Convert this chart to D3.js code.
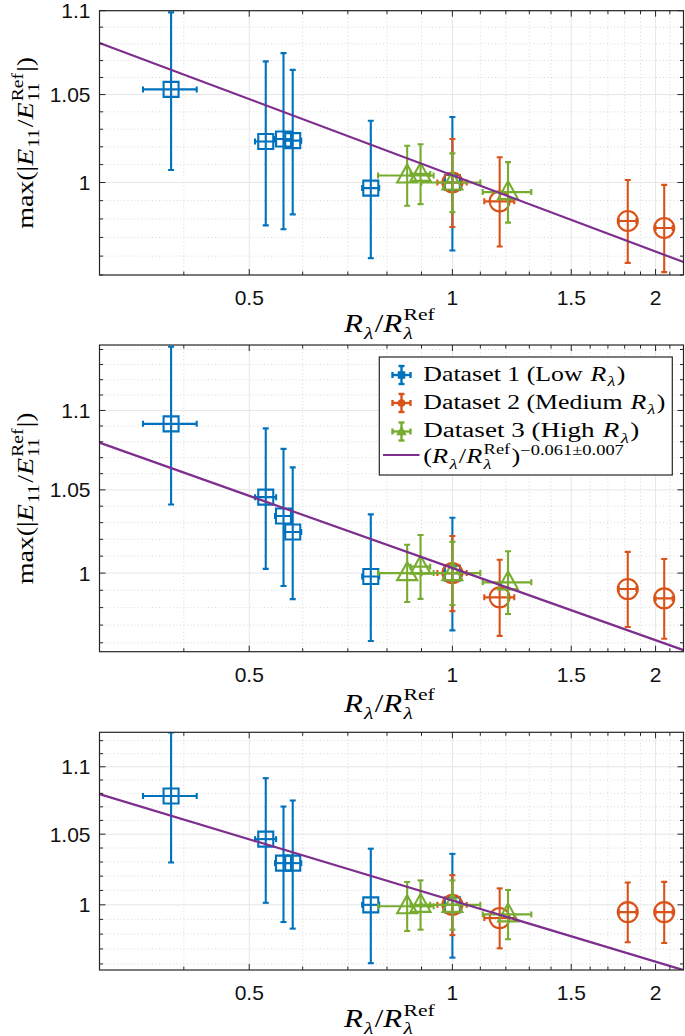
<!DOCTYPE html>
<html><head><meta charset="utf-8">
<script src="https://cdn.jsdelivr.net/npm/d3@7"></script>
<style>body{margin:0;background:#fff} svg{display:block} text{white-space:pre}</style>
</head><body><svg id="c" width="685" height="1036"></svg>
<script>
// ---------- data ----------
const xTicks = [0.5, 1, 1.5, 2];
const xTickLabels = ["0.5", "1", "1.5", "2"];
const xMinor = [0.4, 0.6, 0.7, 0.8, 0.9, 1.1, 1.2, 1.3, 1.4, 1.6, 1.7, 1.8, 1.9, 2.1];
const yTicks = [1, 1.05, 1.1];
const yTickLabels = ["1", "1.05", "1.1"];
const yMinor = [0.95, 0.96, 0.97, 0.98, 0.99, 1.01, 1.02, 1.03, 1.04, 1.06, 1.07, 1.08, 1.09, 1.11, 1.12, 1.13, 1.14];

const d1x = [0.383, 0.529, 0.562, 0.580, 0.757, 1.0];
const d1xerr = [0.035, 0.019, 0.016, 0.017, 0.022, 0.03];
const d2x = [1.0, 1.175, 1.819, 2.06];
const d2xerr = [0.05, 0.06, 0.055, 0.06];
const d3x = [0.857, 0.897, 1.0, 1.209];
const d3xerr = [0.081, 0.03, 0.1, 0.1];

// panel 1
const p1_d1y = [1.053, 1.023, 1.0244, 1.0235, 0.9969, 1.0];
const p1_d1e = [0.046, 0.0465, 0.05, 0.041, 0.038, 0.037];
const p1_d2y = [1.0, 0.9896, 0.9789, 0.9751];
const p1_d2e = [0.0244, 0.0245, 0.0225, 0.0236];
const p1_d3y = [1.0039, 1.0048, 1.0, 0.9947];
const p1_d3e = [0.0167, 0.0167, 0.0163, 0.0167];
// panel 2
const p2_d1y = [1.0914, 1.0455, 1.034, 1.0244, 0.998, 1.0];
const p2_d1e = [0.0504, 0.043, 0.0415, 0.0395, 0.037, 0.033];
const p2_d2y = [1.0, 0.9859, 0.9907, 0.9853];
const p2_d2e = [0.022, 0.022, 0.0218, 0.023];
const p2_d3y = [1.0, 1.0038, 1.0, 0.9946];
const p2_d3e = [0.0168, 0.0188, 0.0185, 0.0183];
// panel 3
const p3_d1y = [1.078, 1.0464, 1.0292, 1.0292, 1.0, 1.0];
const p3_d1e = [0.0483, 0.045, 0.041, 0.0455, 0.0395, 0.0358];
const p3_d2y = [1.0, 0.9909, 0.995, 0.995];
const p3_d2e = [0.0207, 0.0205, 0.0205, 0.021];
const p3_d3y = [0.999, 1.0, 1.0, 0.9934];
const p3_d3e = [0.0169, 0.017, 0.017, 0.0169];

const fitExponent = -0.061;
const fitCoef = [1.004, 1.003, 1.003];

const xDomain = [0.3, 2.2];
const yDomains = [[0.95, 1.1], [0.955, 1.143], [0.956, 1.1265]];

const seriesNames = ["Dataset 1 (Low", "Dataset 2 (Medium", "Dataset 3 (High"];
const colors = ["#0072BD", "#D95319", "#77AC30"];
const fitColor = "#7E2F8E";

// ---------- layout ----------
const svg = d3.select("#c");
const L = 99.5, R = 683.5;
const panels = [
  {top: 10.7, bottom: 275, ylabel: true, legend: false, xlOff: 56.7},
  {top: 345, bottom: 651.7, ylabel: true, legend: true, xlOff: 60},
  {top: 732.3, bottom: 970, ylabel: false, legend: false, xlOff: 57}
];
const panelData = [
  [[p1_d1y, p1_d1e], [p1_d2y, p1_d2e], [p1_d3y, p1_d3e]],
  [[p2_d1y, p2_d1e], [p2_d2y, p2_d2e], [p2_d3y, p2_d3e]],
  [[p3_d1y, p3_d1e], [p3_d2y, p3_d2e], [p3_d3y, p3_d3e]]
];
const xs = [[d1x, d1xerr], [d2x, d2xerr], [d3x, d3xerr]];

const SERIF = "'Liberation Serif', 'Times New Roman', serif";
const SANS = "'Liberation Sans', Arial, Helvetica, sans-serif";

// math-like text layout helper
function mathText(parent, runs, size, subShift) {
  const g = parent.append("g");
  let x = 0;
  runs.forEach(r => {
    if (r.gap !== undefined) { x += r.gap * size; return; }
    if (r.sub !== undefined || r.sup !== undefined) {
      let w = 0;
      const ss = size * 0.7;
      if (r.sub !== undefined) {
        const t = g.append("text").attr("x", x).attr("y", size * (subShift || 0.28))
          .attr("font-family", SERIF).attr("font-size", ss)
          .attr("font-style", r.subIt ? "italic" : "normal").text(r.sub);
        w = Math.max(w, t.node().getComputedTextLength());
      }
      if (r.sup !== undefined) {
        const t = g.append("text").attr("x", x).attr("y", -size * (r.supHigh || 0.45))
          .attr("font-family", SERIF).attr("font-size", ss)
          .attr("font-style", "normal").text(r.sup);
        w = Math.max(w, t.node().getComputedTextLength());
      }
      x += w + 1;
    } else {
      const t = g.append("text").attr("x", x).attr("y", 0)
        .attr("font-family", SERIF).attr("font-size", size)
        .attr("font-style", r.it ? "italic" : "normal").text(r.t);
      x += t.node().getComputedTextLength() + (r.it ? 1 : 0);
    }
  });
  g.attr("fill", "#000");
  return {g, width: x};
}

function placeMath(parent, runs, size, x, y, targetW, anchor, rotate, subShift) {
  const outer = parent.append("g");
  const m = mathText(outer, runs, size, subShift);
  const sx = targetW ? targetW / m.width : 1;
  const off = anchor === "middle" ? -m.width / 2 : 0;
  m.g.attr("transform", `scale(${sx},1) translate(${off},0)`);
  outer.attr("transform", `translate(${x},${y})` + (rotate ? ` rotate(${rotate})` : ""));
  return outer;
}

const xlabelRuns = [{t: "R", it: true}, {sub: "λ", subIt: true}, {t: "/"}, {t: "R", it: true}, {sub: "λ", subIt: true, sup: "Ref"}];
const ylabelRuns = [{t: "max(|"}, {t: "E", it: true}, {sub: "11"}, {t: "/"}, {t: "E", it: true}, {sub: "11", sup: "Ref"}, {t: "|)"}];

function markerPath(kind) {
  if (kind === 0) return "M-7.5,-7.5H7.5V7.5H-7.5Z";
  if (kind === 1) return d3.symbol().type(d3.symbolCircle).size(Math.PI * 100)();
  return "M0,-11L10,7L-10,7Z";
}

panels.forEach((p, pi) => {
  const x = d3.scaleLog().domain(xDomain).range([L, R]);
  const y = d3.scaleLog().domain(yDomains[pi]).range([p.bottom, p.top]);
  const g = svg.append("g");
  const clipId = "clip" + pi;
  svg.append("clipPath").attr("id", clipId).append("rect")
    .attr("x", L).attr("y", p.top).attr("width", R - L).attr("height", p.bottom - p.top);

  const yMin = yMinor.filter(v => v >= yDomains[pi][0] && v <= yDomains[pi][1]);
  // grid minor
  g.selectAll(".gxm").data(xMinor).join("line")
    .attr("x1", d => x(d)).attr("x2", d => x(d)).attr("y1", p.top).attr("y2", p.bottom)
    .attr("stroke", "#cfcfcf").attr("stroke-width", 0.8).attr("stroke-dasharray", "1,2.5");
  g.selectAll(".gym").data(yMin).join("line")
    .attr("y1", d => y(d)).attr("y2", d => y(d)).attr("x1", L).attr("x2", R)
    .attr("stroke", "#cfcfcf").attr("stroke-width", 0.8).attr("stroke-dasharray", "1,2.5");
  // grid major
  g.selectAll(".gx").data(xTicks).join("line")
    .attr("x1", d => x(d)).attr("x2", d => x(d)).attr("y1", p.top).attr("y2", p.bottom)
    .attr("stroke", "#e6e6e6").attr("stroke-width", 1);
  g.selectAll(".gy").data(yTicks).join("line")
    .attr("y1", d => y(d)).attr("y2", d => y(d)).attr("x1", L).attr("x2", R)
    .attr("stroke", "#e6e6e6").attr("stroke-width", 1);

  // data
  const dg = g.append("g").attr("clip-path", `url(#${clipId})`);
  panelData[pi].forEach((s, si) => {
    const [vx, vxe] = xs[si];
    const [vy, vye] = s;
    const col = colors[si];
    const pts = vx.map((xv, i) => ({x: xv, xe: vxe[i], y: vy[i], ye: vye[i]}));
    const sg = dg.append("g").attr("stroke", col).attr("stroke-width", 2.1).attr("fill", "none");
    pts.forEach(d => {
      const cx = x(d.x), cy = y(d.y);
      const yt = y(d.y + d.ye), yb = y(d.y - d.ye);
      const xl = x(d.x - d.xe), xr = x(d.x + d.xe);
      sg.append("line").attr("x1", cx).attr("x2", cx).attr("y1", yt).attr("y2", yb);
      sg.append("line").attr("x1", cx - 3).attr("x2", cx + 3).attr("y1", yt).attr("y2", yt);
      sg.append("line").attr("x1", cx - 3).attr("x2", cx + 3).attr("y1", yb).attr("y2", yb);
      sg.append("line").attr("x1", xl).attr("x2", xr).attr("y1", cy).attr("y2", cy);
      sg.append("line").attr("x1", xl).attr("x2", xl).attr("y1", cy - 3).attr("y2", cy + 3);
      sg.append("line").attr("x1", xr).attr("x2", xr).attr("y1", cy - 3).attr("y2", cy + 3);
      sg.append("path").attr("d", markerPath(si)).attr("transform", `translate(${cx},${cy})`);
    });
  });
  // fit line
  const fx = [xDomain[0], xDomain[1]];
  dg.append("path")
    .attr("d", d3.line().x(d => x(d)).y(d => y(fitCoef[pi] * Math.pow(d, fitExponent)))(fx))
    .attr("stroke", fitColor).attr("stroke-width", 2.2).attr("fill", "none");

  // frame + ticks
  const fc = "#262626";
  g.append("rect").attr("x", L).attr("y", p.top).attr("width", R - L).attr("height", p.bottom - p.top)
    .attr("fill", "none").attr("stroke", fc).attr("stroke-width", 1.2);
  const tk = g.append("g").attr("stroke", fc).attr("stroke-width", 1);
  const xT = xTicks.map(v => ({v, len: 6})).concat(xMinor.map(v => ({v, len: 3.5})));
  xT.forEach(t => {
    tk.append("line").attr("x1", x(t.v)).attr("x2", x(t.v)).attr("y1", p.bottom).attr("y2", p.bottom - t.len);
    tk.append("line").attr("x1", x(t.v)).attr("x2", x(t.v)).attr("y1", p.top).attr("y2", p.top + t.len);
  });
  const yT = yTicks.map(v => ({v, len: 6})).concat(yMin.map(v => ({v, len: 3.5})));
  yT.forEach(t => {
    tk.append("line").attr("y1", y(t.v)).attr("y2", y(t.v)).attr("x1", L).attr("x2", L + t.len);
    tk.append("line").attr("y1", y(t.v)).attr("y2", y(t.v)).attr("x1", R).attr("x2", R - t.len);
  });
  // tick labels
  g.selectAll(".xl").data(xTicks).join("text")
    .attr("x", d => x(d)).attr("y", p.bottom + 30).attr("text-anchor", "middle")
    .attr("font-family", SANS).attr("font-size", 21).attr("fill", "#111")
    .text((d, i) => xTickLabels[i]);
  g.selectAll(".yl").data(yTicks).join("text")
    .attr("x", L - 9).attr("y", d => y(d) + 7.5).attr("text-anchor", "end")
    .attr("font-family", SANS).attr("font-size", 21).attr("fill", "#111")
    .text((d, i) => yTickLabels[i]);

  // axis labels
  placeMath(g, xlabelRuns, 25, 390, p.bottom + p.xlOff, 92, "middle", null, pi === 2 ? 0.26 : 0.28);
  if (p.ylabel) {
    placeMath(g, ylabelRuns, 23, 33, (p.top + p.bottom) / 2, 172, "middle", -90);
  }

  // legend
  if (p.legend) {
    const lg = g.append("g");
    const bx = 379.3, by = 357, bw = 293, bh = 118;
    lg.append("rect").attr("x", bx).attr("y", by).attr("width", bw).attr("height", bh)
      .attr("fill", "#fff").attr("stroke", "#262626").attr("stroke-width", 1.2);
    const rows = [375, 403, 431.5];
    const legW = [202, 242, 216];
    seriesNames.forEach((nm, si) => {
      const cy = rows[si], cx = 401.5, col = colors[si];
      const ig = lg.append("g").attr("stroke", col).attr("stroke-width", 2.4).attr("fill", col);
      ig.append("line").attr("x1", cx).attr("x2", cx).attr("y1", cy - 9).attr("y2", cy + 9);
      ig.append("line").attr("x1", cx - 9).attr("x2", cx + 9).attr("y1", cy).attr("y2", cy);
      ig.append("line").attr("x1", cx - 3).attr("x2", cx + 3).attr("y1", cy - 9).attr("y2", cy - 9);
      ig.append("line").attr("x1", cx - 3).attr("x2", cx + 3).attr("y1", cy + 9).attr("y2", cy + 9);
      ig.append("line").attr("x1", cx - 9).attr("x2", cx - 9).attr("y1", cy - 3).attr("y2", cy + 3);
      ig.append("line").attr("x1", cx + 9).attr("x2", cx + 9).attr("y1", cy - 3).attr("y2", cy + 3);
      const mk = si === 0 ? "M-3,-3H3V3H-3Z" : si === 1 ? d3.symbol().type(d3.symbolCircle).size(30)() : "M0,-4.5L4,3L-4,3Z";
      ig.append("path").attr("d", mk).attr("transform", `translate(${cx},${cy})`).attr("stroke-width", 1.5);
      placeMath(lg, [{t: nm}, {gap: 0.3}, {t: "R", it: true}, {sub: "λ", subIt: true}, {t: ")"}], 20, 423.3, cy + 5.5, legW[si], "start");
    });
    const fy = 455;
    lg.append("line").attr("x1", 383).attr("x2", 419.5).attr("y1", fy).attr("y2", fy)
      .attr("stroke", fitColor).attr("stroke-width", 2.2);
    placeMath(lg, [{t: "("}, {t: "R", it: true}, {sub: "λ", subIt: true}, {t: "/"}, {t: "R", it: true},
      {sub: "λ", subIt: true, sup: "Ref"}, {t: ")"}, {sup: "−0.061±0.007", supHigh: 0.42}], 20, 423.3, 463, 202, "start");
  }
});
</script></body></html>
